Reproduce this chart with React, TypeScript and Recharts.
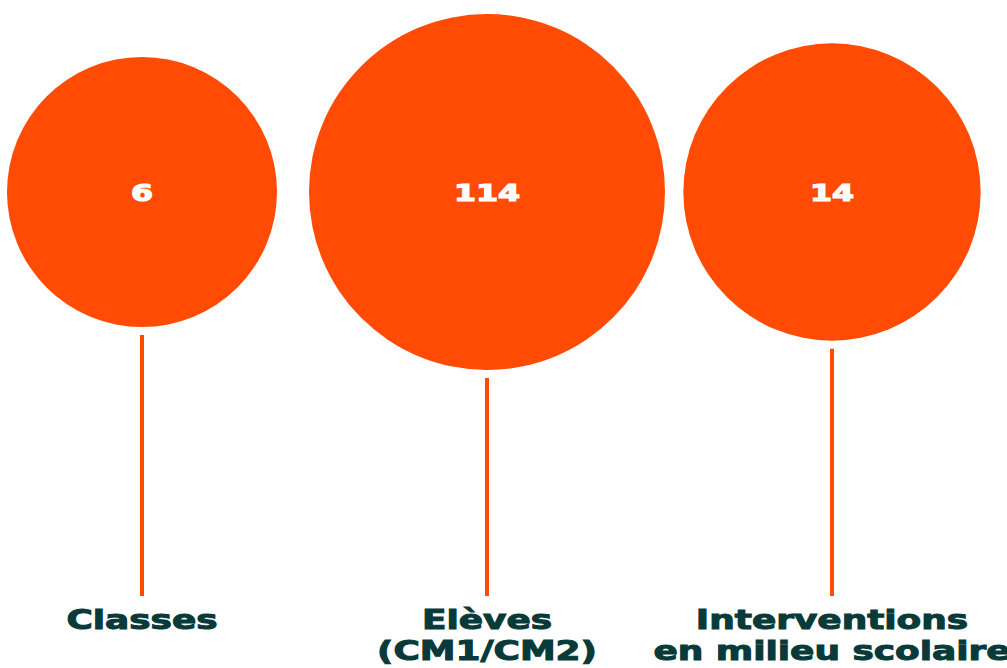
import React from "react"
import { ScatterChart, Scatter, XAxis, YAxis, ZAxis } from "recharts"

// one bubble per category, label lines under each stem
const categories = [["Classes"], ["Elèves", "(CM1/CM2)"], ["Interventions", "en milieu scolaire"]]
const values = [6, 114, 14]
const slots = [0, 1, 2]
const row = [1, 1, 1]

const data = slots.map((i) => ({ slot: i, row: row[i], value: values[i], lines: categories[i] }))

const ORANGE = "#FF4B03"
const INK = "#073A38"
const FONT = "'DejaVu Sans', sans-serif"
const STRETCH = 1.38
const STEM_END = 404
const STEM_GAP = 8

const Bubble = (props: any) => {
  const { cx, cy, payload } = props
  const r = props.width ? props.width / 2 : Math.sqrt(props.size / Math.PI)
  return (
    <g>
      <circle cx={cx} cy={cy} r={r} fill={ORANGE} />
      <line x1={cx} x2={cx} y1={cy + r + STEM_GAP} y2={cy + STEM_END} stroke={ORANGE} strokeWidth={4} />
      <text
        transform={`translate(${cx},${cy + 8.5}) scale(${STRETCH},1)`}
        textAnchor="middle"
        fill="#fff"
        stroke="#fff"
        strokeWidth={1.2}
        fontFamily={FONT}
        fontWeight="bold"
        fontSize={23}
      >
        {payload.value}
      </text>
    </g>
  )
}

const LabelTick = (props: any) => {
  const { x, y, payload } = props
  const lines: string[] = categories[payload.value] || []
  return (
    <g>
      {lines.map((l, k) => (
        <text
          key={k}
          transform={`translate(${x},${y + 33 + k * 31}) scale(${STRETCH},1)`}
          textAnchor="middle"
          fill={INK}
          stroke={INK}
          strokeWidth={1}
          fontFamily={FONT}
          fontWeight="bold"
          fontSize={26}
        >
          {l}
        </text>
      ))}
    </g>
  )
}

export default function App() {
  return (
    <div style={{ position: "absolute", left: 0, top: 0, background: "#fff" }}>
      <ScatterChart width={1007} height={668} margin={{ top: 192, right: 175, bottom: 0, left: 142 }}>
        <XAxis
          type="number"
          dataKey="slot"
          domain={[0, 2]}
          ticks={slots}
          axisLine={false}
          tickLine={false}
          tickSize={0}
          tickMargin={0}
          height={72}
          interval={0}
          tick={<LabelTick />}
        />
        <YAxis type="number" dataKey="row" domain={[0, 1]} hide />
        <ZAxis type="number" dataKey="value" scale="log" domain={[6, 114]} range={[57256, 99538]} />
        <Scatter data={data} shape={(p: any) => <Bubble {...p} />} isAnimationActive={false} />
      </ScatterChart>
    </div>
  )
}
